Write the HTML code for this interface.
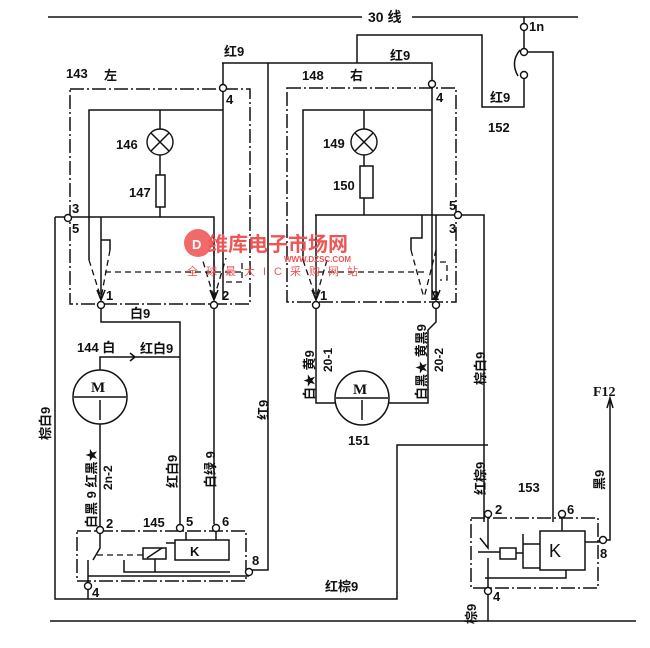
<!DOCTYPE html>
<html><head><meta charset="utf-8"><style>
html,body{margin:0;padding:0;background:#fff}
svg{display:block}
text{font-family:"Liberation Sans","Noto Sans CJK SC",sans-serif;font-size:13px;font-weight:bold;fill:#111}
.s{stroke:#111;stroke-width:1.5;fill:none}
.d{stroke:#111;stroke-width:1.5;fill:none;stroke-dasharray:14 3 2 3}
.da{stroke:#111;stroke-width:1.3;fill:none;stroke-dasharray:6 4}
.c{stroke:#111;stroke-width:1.4;fill:#fff}
.r{fill:#ee5555}
</style></head><body>
<svg width="650" height="648" viewBox="0 0 650 648">
<path class="s" d="M48 17H362M412 17H578"/>
<text x="368" y="22" style="font-size:14px">30 线</text>
<path class="s" d="M524 17V26M524 30V52"/>
<circle class="c" cx="524" cy="27" r="3.5"/><text x="529" y="31">1n</text>
<path class="s" d="M520 50 Q510 62 518 76"/>
<circle class="c" cx="524" cy="52" r="3.5"/><circle class="c" cx="524" cy="75" r="3.5"/>
<path class="s" d="M528 52H553V522M524 79V107H482V35H357V63"/>
<text x="490" y="102">红9</text><text x="488" y="132">152</text>
<path class="s" d="M222 63H432V80M223 63V84M268 63V570H252"/>
<text x="224" y="56">红9</text><text x="390" y="60">红9</text>
<path class="d" d="M70 89H250V304H70Z"/>
<circle class="c" cx="223" cy="88" r="3.5"/><text x="226" y="104">4</text>
<text x="66" y="78">143</text><text x="104" y="80">左</text>
<path class="s" d="M223 92V300M223 110H89V260"/>
<path class="s" d="M160 110V129M160 155V175M160 207V217"/>
<circle class="c" cx="160" cy="142" r="13"/><path class="s" d="M151 133L169 151M169 133L151 151"/>
<rect class="s" x="156" y="175" width="9" height="32"/>
<text x="116" y="149">146</text><text x="129" y="197">147</text>
<path class="s" d="M55 217H214V300M101 217V300M55 217V599H397V445H488"/>
<circle class="c" cx="68" cy="218" r="3.5"/><text x="72" y="213">3</text><text x="72" y="233">5</text>
<path class="s" d="M101 240H110V250"/><path class="da" d="M89 260L101 298M110 250L101 298M214 240L214 298L202 258M214 298L226 258M105 272H242V260M226 282H242V272"/>
<path class="s" d="M97 290L101 300L105 290M210 290L214 300L218 290"/>
<text x="106" y="300">1</text><text x="222" y="300">2</text>
<circle class="c" cx="101" cy="305" r="3.5"/><circle class="c" cx="214" cy="305" r="3.5"/>
<path class="s" d="M101 309V322H180V524M214 309V524"/>
<text x="130" y="318">白9</text>
<circle class="s" cx="100" cy="397" r="27"/><path class="s" d="M74 397H126M100 400V420"/>
<text x="91" y="392" style="font-family:'Liberation Serif',serif;font-size:15px">M</text>
<path class="s" d="M100 370V357H180M130 353L135 357L130 361M100 424V526"/>
<text x="77" y="352">144 白</text><text x="140" y="353">红白9</text>
<text transform="translate(96,528) rotate(-90)">白黑 9 红黑★</text>
<text transform="translate(112,490) rotate(-90)" style="font-size:12px">2n-2</text>
<text transform="translate(177,488) rotate(-90)">红白9</text>
<text transform="translate(215,488) rotate(-90)">白绿 9</text>
<text transform="translate(268,420) rotate(-90)">红9</text>
<text transform="translate(50,440) rotate(-90)">棕白9</text>
<path class="d" d="M77 531H246V581H77Z"/>
<rect class="s" x="175" y="540" width="54" height="20"/><text x="190" y="556">K</text>
<rect class="s" x="143" y="548" width="23" height="11"/><path class="s" d="M147 558L162 548"/>
<path class="s" d="M100 532V548L93 560M88 560V584M88 576H249M124 560V572H230M155 559V572M186 540V532M216 540V532M166 543H175"/>
<path class="da" d="M97 555H143"/>
<circle class="c" cx="100" cy="530" r="3.5"/><circle class="c" cx="180" cy="528" r="3.5"/><circle class="c" cx="216" cy="528" r="3.5"/>
<circle class="c" cx="249" cy="572" r="3.5"/><circle class="c" cx="88" cy="586" r="3.5"/>
<text x="106" y="528">2</text><text x="143" y="527">145</text><text x="186" y="526">5</text><text x="222" y="526">6</text><text x="252" y="565">8</text><text x="92" y="597">4</text>
<path class="s" d="M88 590V599"/>
<path class="d" d="M287 88H456V302H287Z"/>
<circle class="c" cx="432" cy="84" r="3.5"/><text x="436" y="102">4</text>
<text x="302" y="80">148</text><text x="350" y="80">右</text>
<path class="s" d="M432 88V300M432 110H303V260"/>
<path class="s" d="M364 110V129M364 155V166M364 198V215"/>
<circle class="c" cx="364" cy="142" r="13"/><path class="s" d="M355 133L373 151M373 133L355 151"/>
<rect class="s" x="360" y="166" width="13" height="32"/>
<text x="323" y="148">149</text><text x="333" y="190">150</text>
<path class="s" d="M315 215H484V522M316 215V300M422 215V238H411V250M436 215V300"/>
<circle class="c" cx="458" cy="215" r="3.5"/><text x="449" y="210">5</text><text x="449" y="233">3</text>
<path class="da" d="M303 260L316 298M327 260L316 298M411 250L424 298M436 250L424 298M318 272H428M440 262H447V280H440"/>
<path class="s" d="M312 290L316 300L320 290M432 290L436 300L440 290"/>
<text x="320" y="300">1</text><text x="432" y="300">2</text>
<circle class="c" cx="316" cy="305" r="3.5"/><circle class="c" cx="436" cy="305" r="3.5"/>
<circle class="s" cx="362" cy="398" r="27"/><path class="s" d="M336 398H388M362 400V420"/>
<text x="353" y="394" style="font-family:'Liberation Serif',serif;font-size:15px">M</text>
<path class="s" d="M335 403H316V309M389 403H428V330L436 322V309"/>
<text x="348" y="445">151</text>
<text transform="translate(314,400) rotate(-90)">白★ 黄9</text>
<text transform="translate(332,372) rotate(-90)" style="font-size:12px">20-1</text>
<text transform="translate(426,400) rotate(-90)">白黑★ 黄黑9</text>
<text transform="translate(443,372) rotate(-90)" style="font-size:12px">20-2</text>
<text transform="translate(485,385) rotate(-90)">棕白9</text>
<text transform="translate(485,495) rotate(-90)">红棕9</text>
<text x="325" y="591">红棕9</text>
<path class="d" d="M471 518H598V588H471Z"/>
<rect class="s" x="540" y="531" width="45" height="39"/><text x="549" y="557" style="font-size:18px;font-weight:normal">K</text>
<rect class="s" x="500" y="548" width="16" height="11"/>
<path class="s" d="M488 518V548L480 538M488 558V588M478 552H500M516 553H523V568H540M523 534V553M523 544H540M562 518V531M585 542H600M485 578H566V570"/>
<circle class="c" cx="488" cy="514" r="3.5"/><circle class="c" cx="562" cy="514" r="3.5"/><circle class="c" cx="603" cy="540" r="3.5"/><circle class="c" cx="488" cy="591" r="3.5"/>
<text x="495" y="514">2</text><text x="567" y="514">6</text><text x="600" y="558">8</text><text x="493" y="601">4</text>
<text x="518" y="492">153</text>
<path class="s" d="M607 540H610V400M607 408L610 398L613 408M488 595V621"/>
<text x="593" y="396" style="font-family:'Liberation Serif',serif;font-size:14px">F12</text>
<text transform="translate(604,490) rotate(-90)">黑9</text>
<text transform="translate(476,624) rotate(-90)">棕9</text>
<path class="s" d="M50 621H636"/>
<circle cx="198" cy="243" r="14" fill="#f06a6a"/>
<text x="192" y="249" style="fill:#fff">D</text>
<text x="208" y="251" class="r" style="fill:#ee5555;font-size:20px">维库电子市场网</text>
<text x="284" y="262" style="fill:#ee5555;font-size:8px">WWW.DZSC.COM</text>
<text x="187" y="275" style="fill:#ee5555;font-size:11px;font-weight:normal;letter-spacing:8px">全球最大IC采购网站</text>
</svg>
</body></html>
